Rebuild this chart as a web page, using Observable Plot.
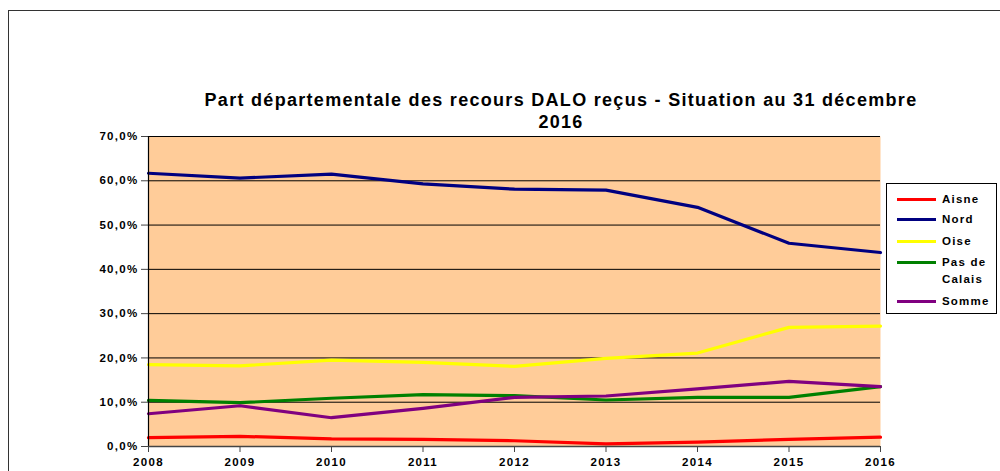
<!DOCTYPE html>
<html><head><meta charset="utf-8">
<script src="https://cdn.jsdelivr.net/npm/d3@7"></script>
<script src="https://cdn.jsdelivr.net/npm/@observablehq/plot@0.6"></script>
<style>
body{margin:0;background:#fff;font-family:"Liberation Sans",Arial,sans-serif;}
#wrap{position:relative;width:1000px;height:471px;overflow:hidden;}
#border{position:absolute;left:8px;top:10px;width:1100px;height:600px;border-top:1.5px solid #333;border-left:1.5px solid #333;}
#title{position:absolute;left:160px;width:802px;top:89px;text-align:center;font-weight:bold;font-size:18px;line-height:22px;letter-spacing:1.3px;color:#000;}
#legend{position:absolute;left:886px;top:183px;width:111px;height:131px;border:1px solid #000;background:#fff;box-sizing:border-box;}
.li{position:absolute;left:10px;font-weight:bold;font-size:11.5px;line-height:17px;letter-spacing:1.2px;color:#000;}
.sw{position:absolute;left:0;width:39px;height:3px;}
.lt{position:absolute;left:45px;white-space:nowrap;}
#chart{position:absolute;left:0;top:0;}
#chart svg text{letter-spacing:1.3px;}
</style></head>
<body><div id="wrap"><div id="border"></div><div id="chart"></div><div id="title">Part départementale des recours DALO reçus - Situation au 31 décembre<br>2016</div><div id="legend"></div></div>
<script>
const years = [2008, 2009, 2010, 2011, 2012, 2013, 2014, 2015, 2016];
const seriesNames = ["Aisne", "Nord", "Oise", "Pas de Calais", "Somme"];
const aisne = [2.0, 2.3, 1.7, 1.6, 1.3, 0.6, 1.0, 1.6, 2.1];
const nord = [61.7, 60.6, 61.5, 59.3, 58.1, 57.9, 54.0, 45.9, 43.8];
const oise = [18.5, 18.2, 19.5, 19.0, 18.1, 19.9, 21.1, 26.9, 27.2];
const pasDeCalais = [10.4, 9.9, 10.9, 11.7, 11.5, 10.5, 11.1, 11.1, 13.5];
const somme = [7.4, 9.2, 6.5, 8.6, 11.1, 11.4, 13.0, 14.7, 13.5];
const yTicks = [0, 10, 20, 30, 40, 50, 60, 70];
const colors = ["#ff0000", "#000080", "#ffff00", "#008000", "#800080"];

const valuesBySeries = [aisne, nord, oise, pasDeCalais, somme];
const data = [];
seriesNames.forEach((s, i) => years.forEach((y, j) => data.push({series: s, year: y, value: valuesBySeries[i][j]})));
const fmt = d => d.toFixed(1).replace(".", ",") + "%";

const chart = Plot.plot({
  width: 1000, height: 471,
  marginLeft: 148, marginRight: 120, marginTop: 136, marginBottom: 25,
  style: {fontFamily: "Liberation Sans, Arial, sans-serif", fontSize: "11.5px", fontWeight: "bold", color: "#000", background: "transparent"},
  x: {type: "linear", domain: [2008, 2016], label: null},
  y: {domain: [0, 70], label: null},
  color: {domain: seriesNames, range: colors},
  marks: [
    Plot.frame({fill: "#ffcc99", stroke: null}),
    Plot.gridY(yTicks, {stroke: "#000", strokeOpacity: 1, strokeWidth: 1}),
    Plot.axisX({ticks: years, tickFormat: d => String(d), tickSize: 6, tickPadding: 5, fontWeight: "bold", fontSize: 11.5, stroke: "#444"}),
    Plot.axisY({ticks: yTicks, tickFormat: fmt, tickSize: 7, tickPadding: 3, fontWeight: "bold", fontSize: 11.5, stroke: "#444"}),
    Plot.line(data, {x: "year", y: "value", z: "series", stroke: "series", strokeWidth: 3.2, strokeLinejoin: "round", curve: "linear"}),
    Plot.ruleX([2008], {stroke: "#000", strokeWidth: 1.2}),
    Plot.ruleY([0], {stroke: "#444", strokeWidth: 1.5})
  ]
});
document.getElementById("chart").appendChild(chart);

const legend = document.getElementById("legend");
const tops = [7, 27, 49, 70, 109];
seriesNames.forEach((s, i) => {
  const d = document.createElement("div");
  d.className = "li";
  d.style.top = tops[i] + "px";
  d.style.width = "100px";
  const sw = document.createElement("div");
  sw.className = "sw"; sw.style.background = colors[i]; sw.style.top = "7px";
  const t = document.createElement("div");
  t.className = "lt";
  t.innerHTML = s === "Pas de Calais" ? "Pas de<br>Calais" : s;
  d.appendChild(sw); d.appendChild(t);
  legend.appendChild(d);
});
</script></body></html>
